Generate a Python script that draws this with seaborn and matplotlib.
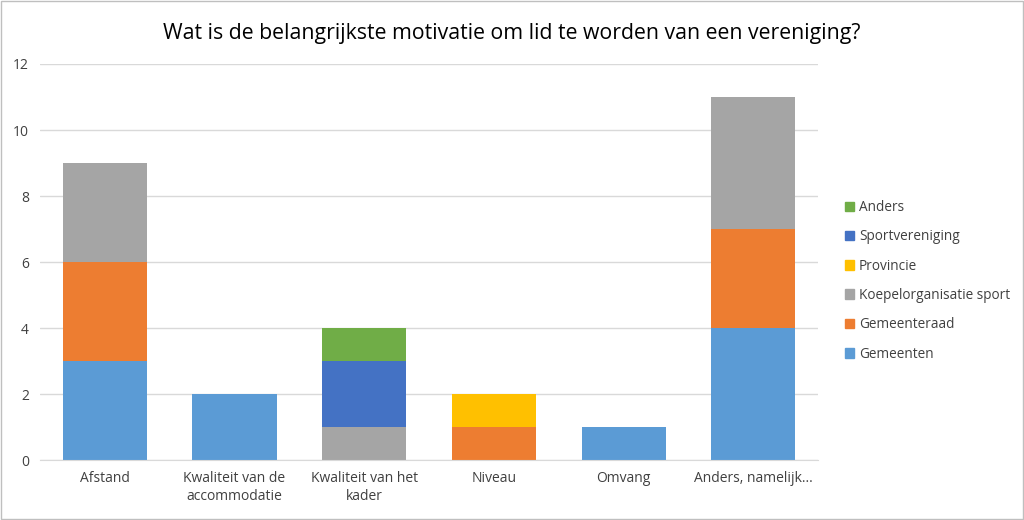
import numpy as np
import pandas as pd
import matplotlib
matplotlib.use("Agg")
import matplotlib.pyplot as plt
import seaborn as sns

categories = ["Afstand", "Kwaliteit van de\naccommodatie", "Kwaliteit van het\nkader",
              "Niveau", "Omvang", "Anders, namelijk..."]
gemeenten = [3, 2, 0, 0, 1, 4]
gemeenteraad = [3, 0, 0, 1, 0, 3]
koepelorganisatie = [3, 0, 1, 0, 0, 4]
provincie = [0, 0, 0, 1, 0, 0]
sportvereniging = [0, 0, 2, 0, 0, 0]
anders = [0, 0, 1, 0, 0, 0]

series = [
    ("Gemeenten", gemeenten, "#5B9BD5"),
    ("Gemeenteraad", gemeenteraad, "#ED7D31"),
    ("Koepelorganisatie sport", koepelorganisatie, "#A5A5A5"),
    ("Provincie", provincie, "#FFC000"),
    ("Sportvereniging", sportvereniging, "#4472C4"),
    ("Anders", anders, "#70AD47"),
]

sns.set_style("white")
plt.rcParams['font.family'] = ['Open Sans', 'DejaVu Sans']

fig = plt.figure(figsize=(10.24, 5.2), dpi=100)
ax = fig.add_axes([0.039, 0.115, 0.760, 0.762])

bottom = np.zeros(len(categories))
handles = []
for name, vals, color in series:
    df = pd.DataFrame({"cat": categories, "val": vals})
    sns.barplot(data=df, x="cat", y="val", color=color, bottom=bottom,
                width=0.648, ax=ax, linewidth=0, saturation=1)
    handles.append(plt.Rectangle((0, 0), 1, 1, color=color))
    bottom += np.array(vals)

ax.set_ylim(0, 12)
ax.set_xlim(-0.5, len(categories) - 0.5)
ax.set_yticks(range(0, 13, 2))
ax.yaxis.grid(True, color="#D9D9D9", linewidth=1)
ax.set_axisbelow(True)
for s in ["top", "right", "left"]:
    ax.spines[s].set_visible(False)
ax.spines["bottom"].set_color("#D9D9D9")
ax.tick_params(axis="both", length=0, labelsize=10, colors="#404040", pad=8)
ax.set_xlabel("")
ax.set_ylabel("")

names = [s[0] for s in series]
leg = fig.legend(handles[::-1], names[::-1], loc="center left",
                 bbox_to_anchor=(0.813, 0.46), frameon=False, fontsize=9.8,
                 handlelength=0.7, handleheight=0.7, labelspacing=1.05,
                 handletextpad=0.35)
for t in leg.get_texts():
    t.set_color("#404040")

fig.suptitle("Wat is de belangrijkste motivatie om lid te worden van een vereniging?",
             y=0.955, fontsize=15.3, color="#000000")

border = plt.Rectangle((0.001, 0.001), 0.998, 0.998, transform=fig.transFigure,
                       fill=False, edgecolor="#BFBFBF", linewidth=1)
fig.patches.append(border)

fig.savefig("out.png", dpi=100)
